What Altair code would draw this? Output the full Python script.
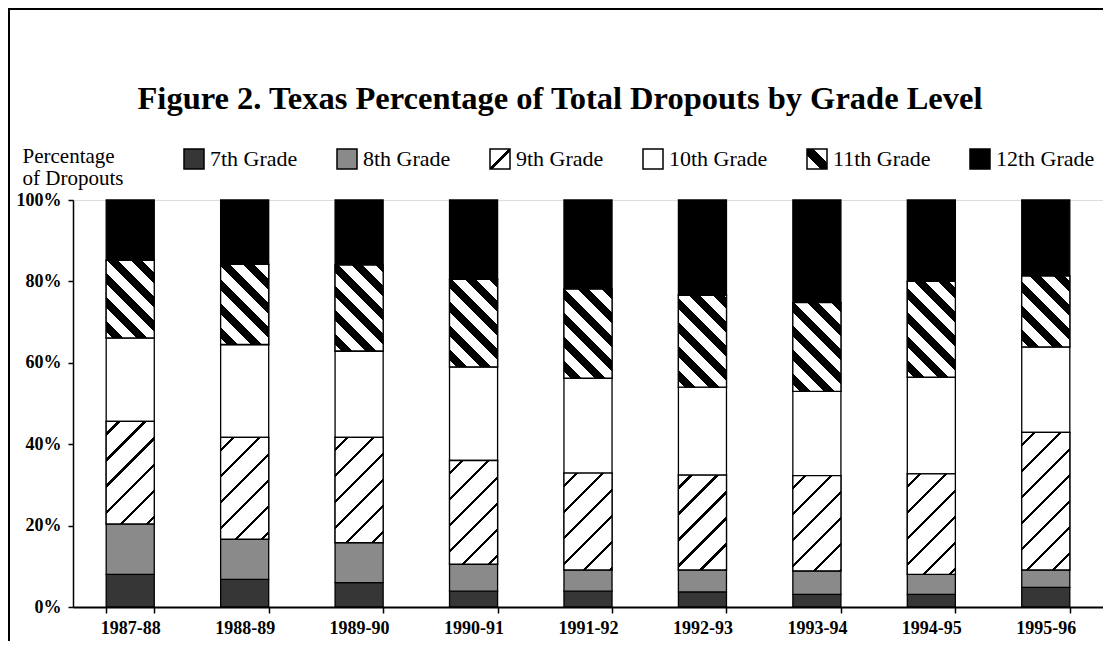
import altair as alt
import pandas as pd

years = ["1987-88", "1988-89", "1989-90", "1990-91", "1991-92",
         "1992-93", "1993-94", "1994-95", "1995-96"]
grades = ["7th Grade", "8th Grade", "9th Grade", "10th Grade", "11th Grade", "12th Grade"]
g7 = [8.0, 6.8, 6.0, 3.9, 3.9, 3.7, 3.1, 3.1, 4.8]
g8 = [12.4, 9.9, 9.8, 6.6, 5.2, 5.4, 5.8, 4.9, 4.3]
g9 = [25.2, 25.0, 25.9, 25.5, 23.8, 23.3, 23.4, 24.7, 33.8]
g10 = [20.5, 22.8, 21.2, 23.0, 23.3, 21.6, 20.7, 23.8, 21.0]
g11 = [19.1, 19.7, 21.1, 21.5, 21.9, 22.6, 21.8, 23.5, 17.4]
g12 = [14.8, 15.8, 16.0, 19.5, 21.9, 23.4, 25.2, 20.0, 18.7]
y_ticks = [0, 20, 40, 60, 80, 100]

series = [g7, g8, g9, g10, g11, g12]
rows = []
for gi, (g, vals) in enumerate(zip(grades, series)):
    for y, v in zip(years, vals):
        rows.append({"year": y, "grade": g, "order": gi, "value": v})
df = pd.DataFrame(rows)

W_PLOT, H_PLOT = 1030, 407
P_IN, P_OUT = 0.58, 0.29
STEP = W_PLOT / (len(years) - P_IN + 2 * P_OUT)
BW = STEP * (1 - P_IN)
PX = H_PLOT / 100.0
SERIF = "Liberation Serif"


def stops_js(L, period, thick, fg="black", bg="white"):
    s = [(0.0, bg)]
    n = int(L / period)
    for i in range(n):
        c = (i + 0.5) * period
        a = max(0.0, (c - thick / 2) / L)
        b = min(1.0, (c + thick / 2) / L)
        s += [(a, bg), (a, fg), (b, fg), (b, bg)]
    s.append((1.0, bg))
    return "[" + ",".join("{offset:%.4f,color:'%s'}" % (o, col) for o, col in s) + "]"


# 9th grade: thin "/" hatching, 45 degrees in pixel space
L9 = 234.0
grad9 = ("{gradient:'linear',x1:0,y1:0,"
         "x2:%.4f*%.1f/(%.4f*%.4f+datum.h*datum.h),"
         "y2:datum.h*%.1f/(%.4f*%.4f+datum.h*datum.h),"
         "stops:%s}") % (BW, L9, BW, BW, L9, BW, BW, stops_js(L9, 26, 3.2))
# 11th grade: thick "\" hatching
L11 = 168.0
grad11 = ("{gradient:'linear',x1:0,y1:1,"
          "x2:%.4f*%.1f/(%.4f*%.4f+datum.h*datum.h),"
          "y2:1-datum.h*%.1f/(%.4f*%.4f+datum.h*datum.h),"
          "stops:%s}") % (BW, L11, BW, BW, L11, BW, BW, stops_js(L11, 24, 11))

leg9 = ("{gradient:'linear',x1:0,y1:0,x2:1,y2:1,stops:[{offset:0,color:'white'},"
        "{offset:0.45,color:'white'},{offset:0.45,color:'black'},{offset:0.56,color:'black'},"
        "{offset:0.56,color:'white'},{offset:1,color:'white'}]}")
leg11 = ("{gradient:'linear',x1:0,y1:1,x2:1,y2:0,stops:[{offset:0,color:'white'},"
         "{offset:0.34,color:'white'},{offset:0.34,color:'black'},{offset:0.66,color:'black'},"
         "{offset:0.66,color:'white'},{offset:1,color:'white'}]}")

fill_range = ["#363636", "#8a8a8a", alt.ExprRef(leg9), "#ffffff", alt.ExprRef(leg11), "#000000"]

x_enc = alt.X(
    "year:N", sort=years, title=None,
    scale=alt.Scale(paddingInner=P_IN, paddingOuter=P_OUT),
    axis=alt.Axis(labelAngle=0, labelFont=SERIF, labelFontSize=18, labelFontWeight="bold",
                  labelColor="black", labelPadding=6, tickBand="extent", tickSize=6,
                  tickColor="black", tickWidth=1.5, domainColor="black", domainWidth=2,
                  grid=False),
)
y_enc = alt.Y(
    "y0:Q",
    scale=alt.Scale(domain=[0, 100], nice=False),
    axis=alt.Axis(values=y_ticks, labelExpr="datum.value + '%'", grid=False,
                  labelFont=SERIF, labelFontSize=18, labelFontWeight="bold", labelColor="black",
                  labelPadding=7, tickSize=5, tickColor="black", tickWidth=1.5,
                  domainColor="black", domainWidth=1.5,
                  title=["Percentage", "of Dropouts"], titleAngle=0, titleAlign="left",
                  titleBaseline="top", titleX=-51, titleY=-55, titleFont=SERIF,
                  titleFontSize=21, titleFontWeight="normal", titleColor="black",
                  titleLineHeight=22),
)

stacked = alt.Chart(df).transform_stack(
    stack="value", groupby=["year"], as_=["y0", "y1"],
    sort=[alt.SortField("order", order="ascending")],
)

base = stacked.mark_bar(stroke="black", strokeWidth=1.3).encode(
    x=x_enc,
    y=y_enc,
    y2="y1:Q",
    color=alt.Color(
        "grade:N",
        scale=alt.Scale(domain=grades, range=fill_range),
        legend=alt.Legend(title=None, orient="none", legendX=110, legendY=-52,
                          direction="horizontal", columns=6, columnPadding=36,
                          symbolType="square", symbolSize=400, symbolStrokeColor="black",
                          symbolStrokeWidth=1.5, labelFont=SERIF, labelFontSize=22,
                          labelColor="black", labelOffset=5, padding=0, labelLimit=0),
    ),
)

hatch9 = stacked.transform_filter(alt.datum.grade == "9th Grade").transform_calculate(
    h="(datum.y1 - datum.y0) * %.4f" % PX
).transform_calculate(grad=grad9).mark_bar(stroke="black", strokeWidth=1.3).encode(
    x=alt.X("year:N", sort=years), y="y0:Q", y2="y1:Q",
    fill=alt.Fill("grad:N", scale=None, legend=None),
)
hatch11 = stacked.transform_filter(alt.datum.grade == "11th Grade").transform_calculate(
    h="(datum.y1 - datum.y0) * %.4f" % PX
).transform_calculate(grad=grad11).mark_bar(stroke="black", strokeWidth=1.3).encode(
    x=alt.X("year:N", sort=years), y="y0:Q", y2="y1:Q",
    fill=alt.Fill("grad:N", scale=None, legend=None),
)

frame_data = alt.Data(values=[{"k": 1}])
frame_left = alt.Chart(frame_data).mark_rule(color="black", strokeWidth=2).encode(
    x=alt.value(-64), y=alt.value(-192), y2=alt.value(441)
)
frame_top = alt.Chart(frame_data).mark_rule(color="black", strokeWidth=2).encode(
    x=alt.value(-64), x2=alt.value(1030), y=alt.value(-191)
)

chart = alt.layer(base, hatch9, hatch11, frame_left, frame_top).properties(
    width=W_PLOT,
    height=H_PLOT,
    title=alt.TitleParams(
        "Figure 2. Texas Percentage of Total Dropouts by Grade Level",
        font=SERIF, fontSize=32.5, fontWeight="bold", color="black",
        anchor="middle", dx=-28, offset=0, dy=108,
    ),
    padding={"left": 65, "top": 192, "right": 0, "bottom": 34},
    autosize=alt.AutoSizeParams(type="none"),
).configure_view(stroke=None).configure(background="white")

chart.save("out.html", embed_options={"renderer": "svg", "actions": False})
